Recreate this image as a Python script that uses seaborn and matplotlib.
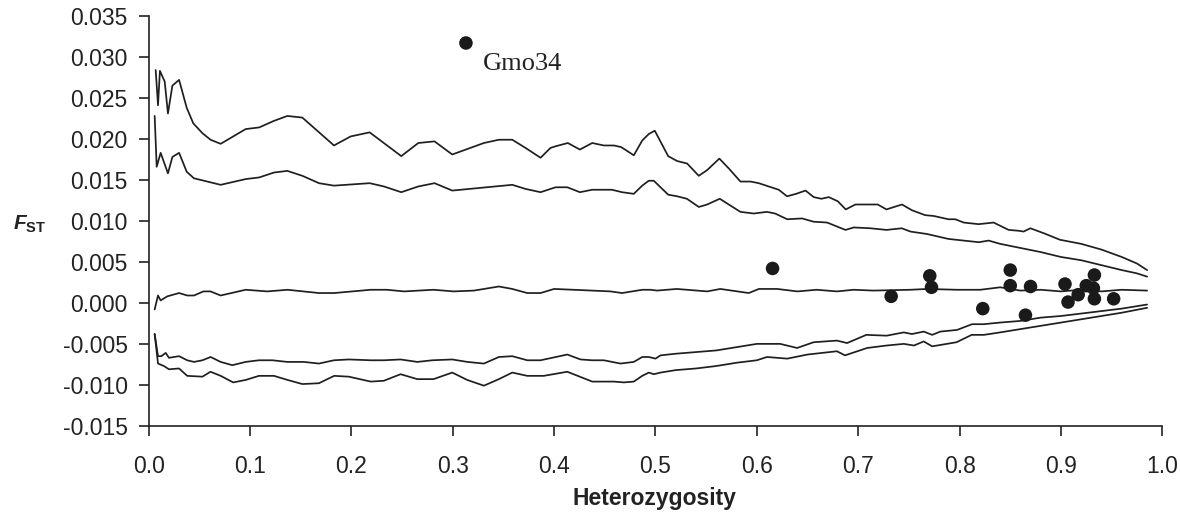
import numpy as np
import pandas as pd
import matplotlib
matplotlib.use("Agg")
import matplotlib.pyplot as plt
import seaborn as sns

# upper 99% envelope
h_up99 = [0.0069, 0.0092, 0.0111, 0.0158, 0.019, 0.0234, 0.030, 0.0375, 0.044, 0.053, 0.061, 0.071,
          0.0957, 0.109, 0.1236, 0.1368, 0.1516, 0.1828, 0.1992, 0.218, 0.2492, 0.266, 0.282, 0.2995,
          0.3307, 0.3455, 0.3587, 0.3718, 0.3866, 0.3964, 0.4014, 0.4135, 0.4254, 0.4376, 0.449, 0.459,
          0.4662, 0.4786, 0.4869, 0.4934, 0.4993, 0.5125, 0.5214, 0.5312, 0.5427, 0.551, 0.563, 0.5723,
          0.5838, 0.5937, 0.6019, 0.6117, 0.6216, 0.6298, 0.6387, 0.648, 0.6561, 0.6637, 0.671, 0.6798,
          0.6877, 0.6972, 0.7193, 0.7278, 0.7432, 0.753, 0.766, 0.7745, 0.789, 0.7958, 0.804, 0.8188,
          0.8336, 0.8484, 0.858, 0.8632, 0.8698, 0.883, 0.899, 0.92, 0.94, 0.96, 0.975, 0.985]
f_up99 = [0.0284, 0.0241, 0.0283, 0.0270, 0.0231, 0.0265, 0.0272, 0.0238, 0.0219, 0.0207, 0.0199, 0.0194,
          0.0212, 0.0214, 0.0222, 0.0228, 0.0226, 0.0192, 0.0203, 0.0208, 0.0179, 0.0195, 0.0197, 0.0181,
          0.0195, 0.0199, 0.0199, 0.0189, 0.0177, 0.0189, 0.0191, 0.0195, 0.0187, 0.0195, 0.0192, 0.0192,
          0.0190, 0.0180, 0.0198, 0.0206, 0.0210, 0.0179, 0.0173, 0.0170, 0.0155, 0.0162, 0.0176, 0.0164,
          0.0148, 0.0148, 0.0146, 0.0142, 0.0138, 0.0130, 0.0133, 0.0137, 0.0129, 0.0127, 0.0129, 0.0124,
          0.0114, 0.0120, 0.0120, 0.0114, 0.0120, 0.0113, 0.0107, 0.0106, 0.0102, 0.0102, 0.0098, 0.0096,
          0.0098, 0.0089, 0.0088, 0.0087, 0.0091, 0.0085, 0.0077, 0.0072, 0.0065, 0.0056, 0.0048, 0.0040]

# upper 95% envelope
h_up95 = [0.0059, 0.0079, 0.0118, 0.019, 0.0234, 0.030, 0.0375, 0.0446, 0.0578, 0.071, 0.0957, 0.109,
          0.1236, 0.1368, 0.1516, 0.168, 0.1828, 0.218, 0.2321, 0.2492, 0.266, 0.282, 0.2995, 0.3587,
          0.3718, 0.3866, 0.4014, 0.413, 0.4254, 0.4376, 0.457, 0.467, 0.4786, 0.4869, 0.4934, 0.4983,
          0.5125, 0.5214, 0.531, 0.5427, 0.551, 0.5634, 0.5723, 0.5838, 0.597, 0.610, 0.618, 0.630,
          0.6446, 0.656, 0.6693, 0.6874, 0.6956, 0.712, 0.728, 0.743, 0.7515, 0.7679, 0.789, 0.804,
          0.819, 0.8287, 0.840, 0.86, 0.88, 0.90, 0.92, 0.94, 0.96, 0.975, 0.985]
f_up95 = [0.0228, 0.0166, 0.0183, 0.0158, 0.0178, 0.0183, 0.0160, 0.0152, 0.0148, 0.0144, 0.0151, 0.0153,
          0.0159, 0.0161, 0.0155, 0.0146, 0.0143, 0.0146, 0.0142, 0.0135, 0.0142, 0.0146, 0.0137, 0.0144,
          0.0139, 0.0135, 0.0141, 0.0141, 0.0135, 0.0138, 0.0138, 0.0135, 0.0133, 0.0143, 0.0149, 0.0149,
          0.0132, 0.0130, 0.0127, 0.0117, 0.0120, 0.0127, 0.0120, 0.0111, 0.0109, 0.0111, 0.0109, 0.0102,
          0.0103, 0.0099, 0.0098, 0.0089, 0.0092, 0.0091, 0.0089, 0.0091, 0.0087, 0.0084, 0.0078, 0.0076,
          0.0074, 0.0076, 0.0072, 0.0067, 0.0062, 0.0056, 0.0052, 0.0046, 0.0040, 0.0036, 0.0032]

# median
h_med = [0.0059, 0.0092, 0.0118, 0.0184, 0.030, 0.038, 0.0447, 0.054, 0.061, 0.071, 0.0957, 0.117,
         0.137, 0.168, 0.183, 0.219, 0.235, 0.252, 0.281, 0.301, 0.321, 0.3455, 0.3587, 0.3735,
         0.3866, 0.400, 0.419, 0.4556, 0.467, 0.487, 0.495, 0.5016, 0.521, 0.551, 0.564, 0.592,
         0.602, 0.620, 0.640, 0.659, 0.679, 0.6956, 0.715, 0.7515, 0.768, 0.7975, 0.8205, 0.840,
         0.86, 0.88, 0.90, 0.92, 0.94, 0.96, 0.985]
f_med = [-0.0008, 0.0009, 0.0003, 0.0008, 0.0012, 0.0009, 0.0009, 0.0014, 0.0014, 0.0009, 0.0016, 0.0014,
         0.0016, 0.0012, 0.0012, 0.0016, 0.0016, 0.0014, 0.0016, 0.0014, 0.0015, 0.0020, 0.0017, 0.0012,
         0.0012, 0.0017, 0.0016, 0.0014, 0.0012, 0.0016, 0.0016, 0.0015, 0.0017, 0.0014, 0.0017, 0.0012,
         0.0017, 0.0017, 0.0014, 0.0016, 0.0014, 0.0016, 0.0015, 0.0016, 0.0017, 0.0016, 0.0016, 0.0019,
         0.0015, 0.0016, 0.0014, 0.0016, 0.0014, 0.0016, 0.0015]

# lower 95% envelope
h_lo95 = [0.0059, 0.0092, 0.0125, 0.0168, 0.020, 0.030, 0.038, 0.0447, 0.053, 0.0611, 0.071, 0.0825,
          0.0957, 0.1088, 0.122, 0.1368, 0.153, 0.168, 0.1828, 0.1975, 0.219, 0.232, 0.2485, 0.265,
          0.2798, 0.2995, 0.3143, 0.3307, 0.3455, 0.3587, 0.3735, 0.3866, 0.413, 0.426, 0.4376, 0.449,
          0.4655, 0.4786, 0.4869, 0.4934, 0.500, 0.505, 0.52, 0.54, 0.56, 0.58, 0.600, 0.623,
          0.6397, 0.656, 0.679, 0.689, 0.708, 0.728, 0.745, 0.753, 0.7646, 0.773, 0.781, 0.7975,
          0.8123, 0.8238, 0.840, 0.86, 0.88, 0.90, 0.92, 0.94, 0.96, 0.985]
f_lo95 = [-0.0038, -0.0065, -0.0065, -0.0061, -0.0067, -0.0065, -0.0070, -0.0072, -0.0070, -0.0066, -0.0072, -0.0076,
          -0.0072, -0.0070, -0.0070, -0.0072, -0.0072, -0.0074, -0.0070, -0.0069, -0.0070, -0.0070, -0.0069, -0.0072,
          -0.0070, -0.0069, -0.0072, -0.0074, -0.0066, -0.0065, -0.0070, -0.0070, -0.0063, -0.0069, -0.0070, -0.0070,
          -0.0074, -0.0072, -0.0066, -0.0066, -0.0068, -0.0064, -0.0062, -0.0060, -0.0058, -0.0054, -0.0050, -0.0050,
          -0.0055, -0.0048, -0.0046, -0.0049, -0.0039, -0.0040, -0.0036, -0.0038, -0.0035, -0.0039, -0.0035, -0.0033,
          -0.0026, -0.0026, -0.0024, -0.0022, -0.0018, -0.0016, -0.0013, -0.0010, -0.0007, -0.0002]

# lower 99% envelope
h_lo99 = [0.0059, 0.0092, 0.015, 0.020, 0.030, 0.038, 0.053, 0.061, 0.071, 0.0834, 0.0957, 0.1088,
          0.1236, 0.137, 0.1516, 0.168, 0.183, 0.1975, 0.219, 0.232, 0.2485, 0.265, 0.281, 0.2995,
          0.3143, 0.3307, 0.3455, 0.3587, 0.3735, 0.3898, 0.413, 0.4376, 0.459, 0.4688, 0.4786, 0.4869,
          0.4934, 0.4983, 0.505, 0.52, 0.54, 0.56, 0.58, 0.60, 0.61, 0.63, 0.650, 0.679,
          0.687, 0.7088, 0.728, 0.745, 0.755, 0.7646, 0.773, 0.797, 0.812, 0.824, 0.840, 0.86,
          0.88, 0.90, 0.92, 0.94, 0.96, 0.985]
f_lo99 = [-0.0038, -0.0074, -0.0077, -0.0081, -0.0080, -0.0089, -0.0090, -0.0084, -0.0089, -0.0097, -0.0094, -0.0089,
          -0.0089, -0.0094, -0.0099, -0.0098, -0.0089, -0.0090, -0.0096, -0.0095, -0.0087, -0.0093, -0.0093, -0.0085,
          -0.0094, -0.0101, -0.0093, -0.0085, -0.0089, -0.0089, -0.0084, -0.0096, -0.0096, -0.0097, -0.0096, -0.0089,
          -0.0085, -0.0087, -0.0085, -0.0082, -0.0080, -0.0077, -0.0073, -0.0070, -0.0066, -0.0068, -0.0063, -0.0059,
          -0.0064, -0.0055, -0.0052, -0.0050, -0.0052, -0.0047, -0.0053, -0.0048, -0.0039, -0.0039, -0.0036, -0.0032,
          -0.0028, -0.0024, -0.0020, -0.0016, -0.0012, -0.0006]

# observed loci
loci_h = [0.313, 0.6155, 0.7325, 0.7706, 0.7723, 0.8229, 0.850, 0.850, 0.865, 0.870,
          0.904, 0.907, 0.917, 0.925, 0.932, 0.933, 0.933, 0.952]
loci_f = [0.0317, 0.0042, 0.0008, 0.0033, 0.0019, -0.0007, 0.0040, 0.0021, -0.0015, 0.0020,
          0.0023, 0.0001, 0.0010, 0.0021, 0.0018, 0.0034, 0.0005, 0.0005]

sns.set_style("ticks")
plt.rcParams['font.family'] = ['Liberation Sans', 'DejaVu Sans']
plt.rcParams['mathtext.fontset'] = 'custom'
plt.rcParams['mathtext.it'] = 'Liberation Sans:italic:bold'
plt.rcParams['mathtext.bf'] = 'Liberation Sans:bold'

fig = plt.figure(figsize=(11.8, 5.31), dpi=100)
ax = fig.add_axes([0.126, 0.198, 0.859, 0.772])

line_col = '#1f1f1f'
for h, f in [(h_up99, f_up99), (h_up95, f_up95), (h_med, f_med), (h_lo95, f_lo95), (h_lo99, f_lo99)]:
    sns.lineplot(x=h, y=f, ax=ax, color=line_col, linewidth=1.25, estimator=None, sort=False)

sns.scatterplot(x=loci_h, y=loci_f, ax=ax, color='#1a1a1a', s=95, edgecolor='none', zorder=5)
ax.text(loci_h[0] + 0.0165, 0.0284, 'Gmo34', family='Liberation Serif',
        fontsize=19, va='baseline', ha='left', color='#222222')

ax.set_xlim(0, 1.0)
ax.set_ylim(-0.015, 0.035)
ax.set_xticks(np.arange(0, 1.01, 0.1))
ax.set_xticklabels(['%.1f' % v for v in np.arange(0, 1.01, 0.1)])
ax.set_yticks(np.arange(-0.015, 0.0351, 0.005))
ax.set_yticklabels(['%.3f' % v for v in np.arange(-0.015, 0.0351, 0.005)])
ax.tick_params(axis='both', labelsize=16.5, colors='#222222', length=7, width=1.2)
ax.tick_params(axis='x', pad=14)
ax.tick_params(axis='y', pad=8)
sns.despine(ax=ax)
for sp in ['left', 'bottom']:
    ax.spines[sp].set_linewidth(1.2)
    ax.spines[sp].set_color('#222222')

ax.set_xlabel('')
ax.set_ylabel('')
fig.text(0.555, 0.062, 'Heterozygosity', fontsize=16.5, fontweight='bold',
         ha='center', va='center', color='#222222')
fig.text(0.0254, 0.578, r'$\mathit{F}_{\mathbf{ST}}$', fontsize=15, ha='center', va='center', color='#222222')

fig.savefig('out.png', dpi=100)
